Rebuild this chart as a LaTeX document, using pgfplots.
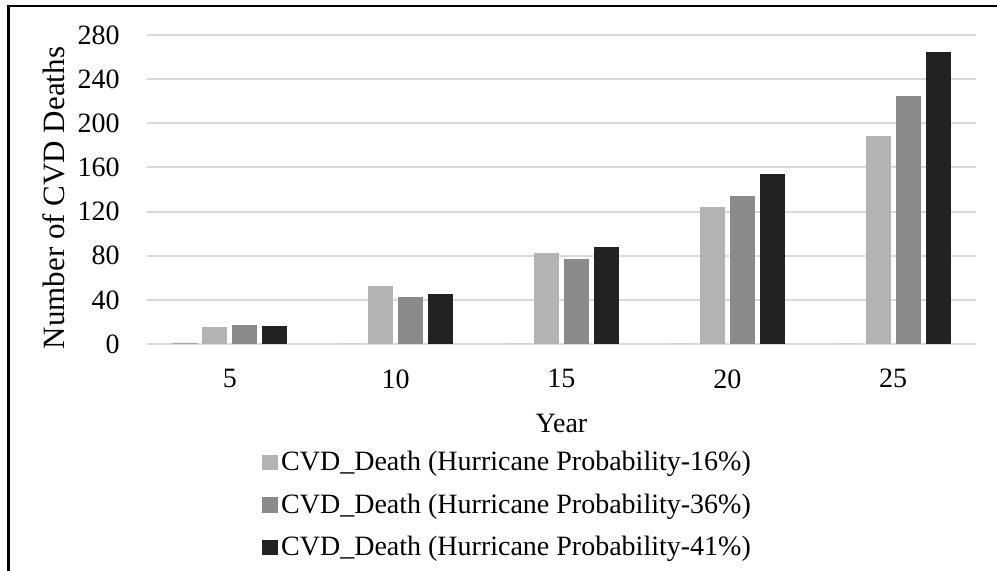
\documentclass[border=0pt]{standalone}
\usepackage{fontspec}
\setmainfont{Liberation Serif}
\usepackage{pgfplots}
\pgfplotsset{compat=1.18}
\definecolor{barA}{HTML}{A6A6A6}
\definecolor{barB}{HTML}{B3B3B3}
\definecolor{barC}{HTML}{8A8A8A}
\definecolor{barD}{HTML}{222222}
\definecolor{gridgray}{HTML}{D9D9D9}
\newcommand{\chartfont}{\fontsize{14}{16.8}\selectfont}
\begin{document}
\begin{tikzpicture}
\begin{axis}[
  at={(0,0)}, anchor=south west,
  scale only axis, width=414.5pt, height=154.5pt,
  xmin=-0.5, xmax=4.5, ymin=0, ymax=280,
  xtick={0,1,2,3,4}, xticklabels={5,10,15,20,25},
  ytick={0,40,...,280},
  ymajorgrids, grid style={draw=gridgray, line width=1pt},
  axis line style={draw=none}, tick style={draw=none},
  /pgf/number format/assume math mode=true,
  tick label style={font=\chartfont},
  yticklabel style={anchor=east, inner sep=0pt, xshift=-13.5pt},
  xticklabel style={anchor=north, inner sep=0pt, yshift=-12.5pt},
  xlabel={Year}, ylabel={Number of CVD Deaths},
  xlabel style={font=\chartfont, at={(axis description cs:0.5,-0.288)}, anchor=base},
  ylabel style={font=\fontsize{15.5}{18}\selectfont,
    at={(axis description cs:-0.1128,0.4725)}, anchor=center},
  legend style={at={(axis description cs:0.1387,-0.337)}, anchor=north west,
    draw=none, fill=none, inner sep=0pt, row sep=7pt, font=\chartfont,
    nodes={inner sep=1.5pt}},
  legend cell align=left,
  legend image code/.code={\fill[#1] (0pt,-3.6pt) rectangle (7.4pt,3.6pt);},
]
  \addplot[ybar, bar width=0.1448, bar shift=-0.2714, fill=barA, draw=none, forget plot]
    coordinates {(0,1) (1,0) (2,0) (3,0) (4,0)};
  \addplot[ybar, bar width=0.1448, bar shift=-0.0905, fill=barB, draw=barB, line width=0.5pt]
    coordinates {(0,15) (1,52) (2,82) (3,124) (4,188)};
  \addplot[ybar, bar width=0.1448, bar shift=0.0905, fill=barC, draw=barC, line width=0.5pt]
    coordinates {(0,17) (1,42) (2,77) (3,134) (4,224)};
  \addplot[ybar, bar width=0.1448, bar shift=0.2714, fill=barD, draw=barD, line width=0.5pt]
    coordinates {(0,16) (1,45) (2,87) (3,154) (4,264)};
  \legend{CVD\_Death (Hurricane Probability-16\%),
          CVD\_Death (Hurricane Probability-36\%),
          CVD\_Death (Hurricane Probability-41\%)}
\end{axis}
\draw[line width=1.25pt] (-69.15pt,-113.5pt) -- (-69.15pt,168.9pt) -- (425pt,168.9pt);
\pgfresetboundingbox
\path[use as bounding box] (-73.5pt,-113.5pt) rectangle (425pt,172pt);
\end{tikzpicture}
\end{document}
